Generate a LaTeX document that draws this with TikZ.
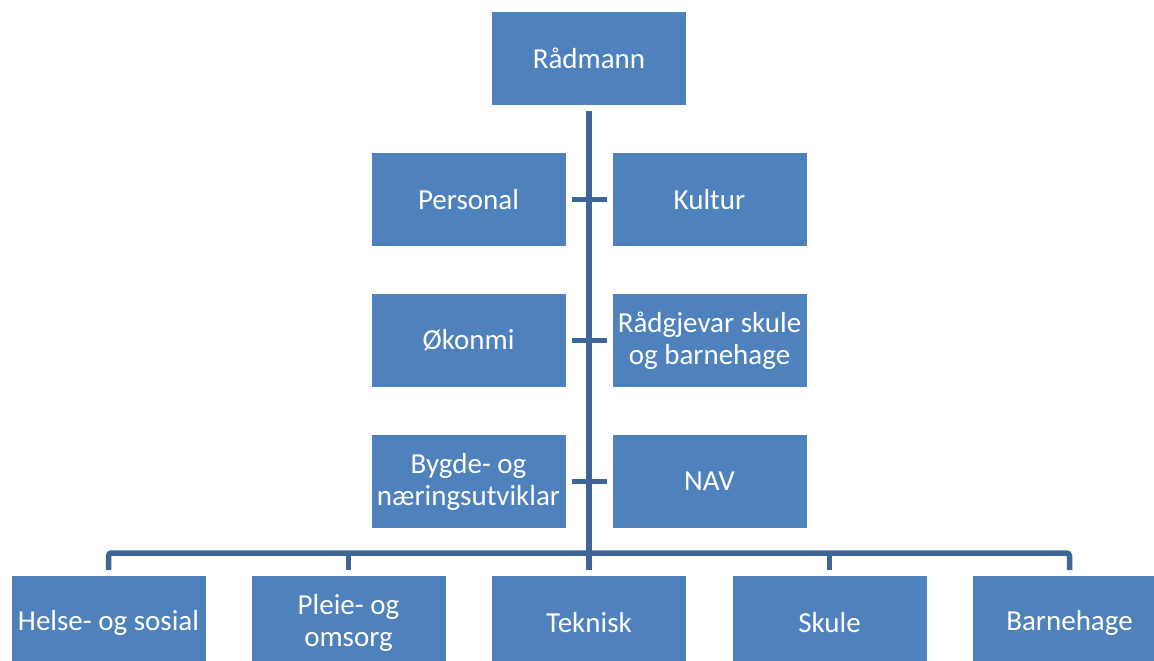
\documentclass[tikz,border=0pt]{standalone}
\usepackage{fontspec}
\setmainfont{Carlito}
\definecolor{boxblue}{RGB}{79,129,189}
\definecolor{lineblue}{RGB}{62,101,152}

\begin{document}
\begin{tikzpicture}[x=1pt, y=-1pt,
    unit/.style={rectangle, fill=boxblue, text=white, minimum width=194pt, minimum height=93pt,
        inner sep=0pt, outer sep=6pt, align=center, font=\fontsize{29}{32}\selectfont},
    conn/.style={draw=lineblue, line width=5.5pt}]
    \useasboundingbox (0,0) rectangle (1154,661);
    \clip (0,0) rectangle (1154,661);

    \node[unit] (rad)   at (589, 58.5)  {Rådmann};
    \node[unit] (pers)  at (468.5, 199.5) {Personal};
    \node[unit] (kult)  at (709.5, 199.5) {Kultur};
    \node[unit] (okon)  at (468.5, 340.5) {Økonmi};
    \node[unit] (radg)  at (709.5, 340.5) {Rådgjevar skule\\og barnehage};
    \node[unit] (bygde) at (468.5, 481.5) {Bygde- og\\næringsutviklar};
    \node[unit] (nav)   at (709.5, 481.5) {NAV};

    \node[unit] (helse) at (108.5, 622.5)  {Helse- og sosial};
    \node[unit] (pleie) at (348.5, 622.5)  {Pleie- og\\omsorg};
    \node[unit] (tek)   at (589, 622.5)    {Teknisk};
    \node[unit] (skule) at (829.5, 622.5)  {Skule};
    \node[unit] (barn)  at (1069.5, 622.5) {Barnehage};

    \coordinate (bus) at (589, 553);

    \draw[conn] (rad) -- (tek);
    \draw[conn] (pers) -- (kult);
    \draw[conn] (okon) -- (radg);
    \draw[conn] (bygde) -- (nav);
    \draw[conn, rounded corners=3pt] (helse.north) |- (bus) -| (barn.north);
    \draw[conn] (pleie.north) -- (pleie.north |- bus);
    \draw[conn] (skule.north) -- (skule.north |- bus);
\end{tikzpicture}
\end{document}
